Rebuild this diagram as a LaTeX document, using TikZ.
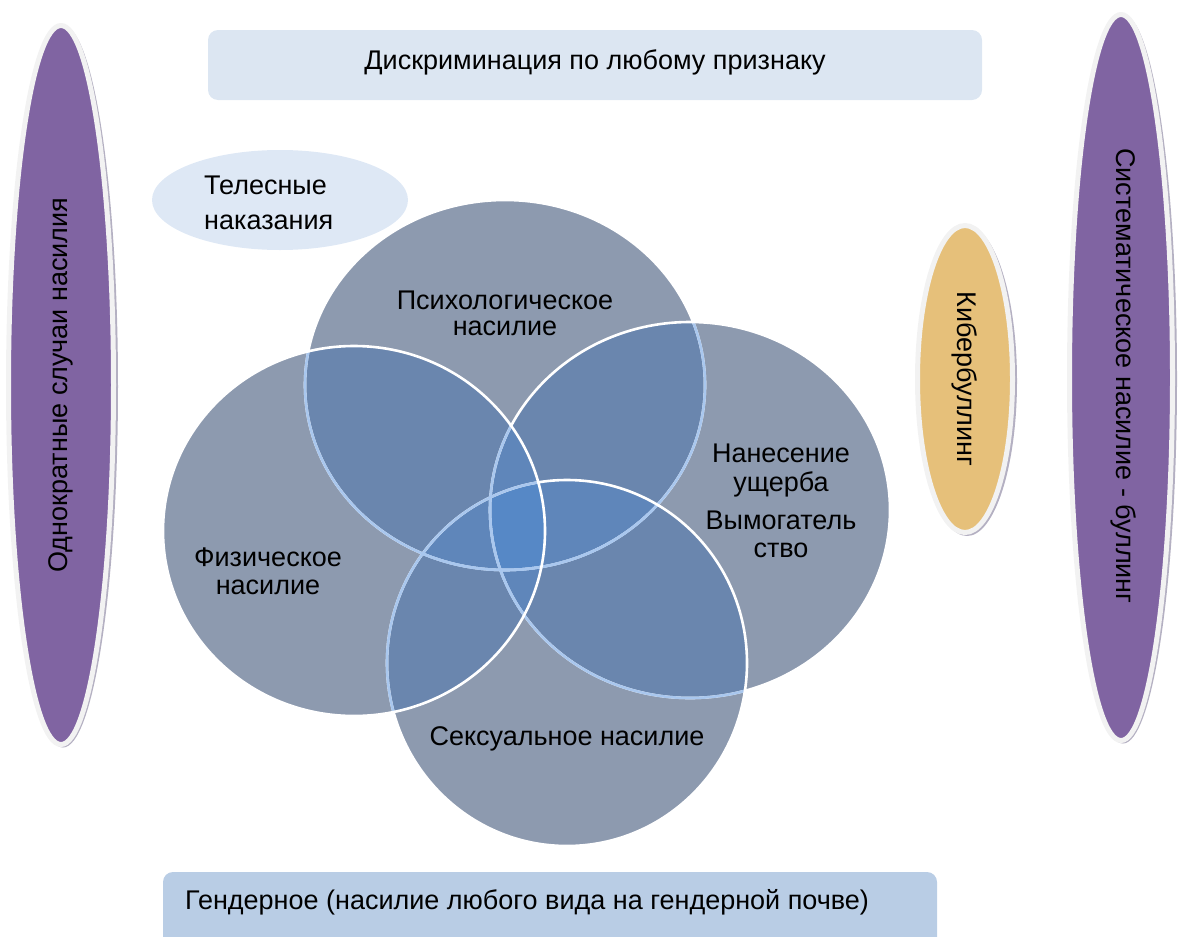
\documentclass[tikz,border=0pt]{standalone}
\usepackage{fontspec}
\setmainfont{Liberation Sans}
\usetikzlibrary{shapes.geometric}
\definecolor{purp}{HTML}{8064A2}
\definecolor{gold}{HTML}{E6C07A}
\definecolor{ringcol}{HTML}{F2F2F2}
\definecolor{shadowcol}{HTML}{B4B0C2}
\definecolor{toprect}{HTML}{DCE6F2}
\definecolor{botrect}{HTML}{B9CDE5}
\definecolor{telcol}{HTML}{DEE8F5}
\definecolor{vbase}{HTML}{8D9AAF}
\definecolor{vtwo}{HTML}{6A86AE}
\definecolor{vthree}{HTML}{5F86BA}
\definecolor{vfour}{HTML}{5688C6}
\definecolor{tint}{HTML}{A9C7EE}
\begin{document}
\begin{tikzpicture}[x=1pt,y=-1pt,
  cA/.style={insert path={(505,385) ellipse [x radius=200, y radius=185]}},
  cB/.style={insert path={(354,531) ellipse [x radius=191, y radius=185]}},
  cC/.style={insert path={(690,510) ellipse [x radius=200, y radius=188]}},
  cD/.style={insert path={(567,663) ellipse [x radius=180, y radius=183]}},
  wline/.style={draw=white, line width=2.6pt},
  tline/.style={draw=tint, line width=2.6pt},
  ovalbox/.style={ellipse, draw=ringcol, line width=5pt, inner sep=0pt},
  rbox/.style={rectangle, rounded corners=10pt, inner sep=0pt},
  txt/.style={text=black, inner sep=0pt, font=\fontsize{27}{31}\selectfont},
]
\useasboundingbox (0,0) rectangle (1178,937);

% top and bottom bars
\node[rbox, fill=toprect, minimum width=774pt, minimum height=70pt] (topbar) at (595,65) {};
\node[txt] (toptext) at (595,62) {Дискриминация по любому признаку};
\node[rbox, fill=botrect, minimum width=774pt, minimum height=80pt] (botbar) at (550,912) {};
\node[txt, anchor=west] (bottext) at (185,902) {Гендерное (насилие любого вида на гендерной почве)};

% side ellipses
\fill[shadowcol] (63,386.5) ellipse [x radius=55, y radius=361];
\node[ovalbox, fill=purp, minimum width=105pt, minimum height=719pt] (left) at (61,385) {};
\node[txt, rotate=90] (lefttext) at (left.center) {Однократные случаи насилия};

\fill[shadowcol] (1123,379) ellipse [x radius=54, y radius=364.5];
\node[ovalbox, fill=purp, minimum width=103pt, minimum height=726pt] (right) at (1121,377.5) {};
\node[txt, rotate=-90] (righttext) at (1124,376) {Систематическое насилие - буллинг};

\fill[shadowcol] (967,381) ellipse [x radius=50, y radius=155];
\node[ovalbox, fill=gold, minimum width=95pt, minimum height=307pt] (cyber) at (965,379) {};
\node[txt, rotate=-90] (cybertext) at (cyber.center) {Кибербуллинг};

% Telesnye
\node[ellipse, fill=telcol, minimum width=256pt, minimum height=100pt, inner sep=0pt] (tel) at (280,200) {};
\node[txt, anchor=west, align=left, font=\fontsize{27}{35}\selectfont] (teltext) at (204,203) {Телесные\\наказания};

% venn fills
\fill[vbase, cA];
\fill[vbase, cB];
\fill[vbase, cC];
\fill[vbase, cD];
% pairs
\begin{scope}\clip[cA]; \fill[vtwo, cB]; \fill[vtwo, cC]; \fill[vtwo, cD]; \end{scope}
\begin{scope}\clip[cB]; \fill[vtwo, cC]; \fill[vtwo, cD]; \end{scope}
\begin{scope}\clip[cC]; \fill[vtwo, cD]; \end{scope}
% triples
\begin{scope}\clip[cA]; \clip[cB]; \fill[vthree, cC]; \fill[vthree, cD]; \end{scope}
\begin{scope}\clip[cA]; \clip[cC]; \fill[vthree, cD]; \end{scope}
\begin{scope}\clip[cB]; \clip[cC]; \fill[vthree, cD]; \end{scope}
% quad
\begin{scope}\clip[cA]; \clip[cB]; \clip[cC]; \fill[vfour, cD]; \end{scope}

% outlines, order A, C, D, B
\path[wline, cA];
\begin{scope}\clip[cC]; \path[tline, cA]; \end{scope}
\path[wline, cC];
\begin{scope}\clip[cD]; \path[tline, cA]; \path[tline, cC]; \end{scope}
\path[wline, cD];
\begin{scope}\clip[cB]; \path[tline, cA]; \path[tline, cC]; \path[tline, cD]; \end{scope}
\path[wline, cB];

% venn labels
\node[txt, align=center, font=\fontsize{27}{26}\selectfont] (psy) at (505,313) {Психологическое\\насилие};
\node[txt, align=center, font=\fontsize{27}{28.5}\selectfont] (harm) at (781,501) {Нанесение\\ущерба\\[9.5pt]Вымогатель\\ство};
\node[txt, align=center, font=\fontsize{27}{28}\selectfont] (phys) at (268,571) {Физическое\\насилие};
\node[txt] (sex) at (567,739) {Сексуальное насилие};
\end{tikzpicture}
\end{document}
